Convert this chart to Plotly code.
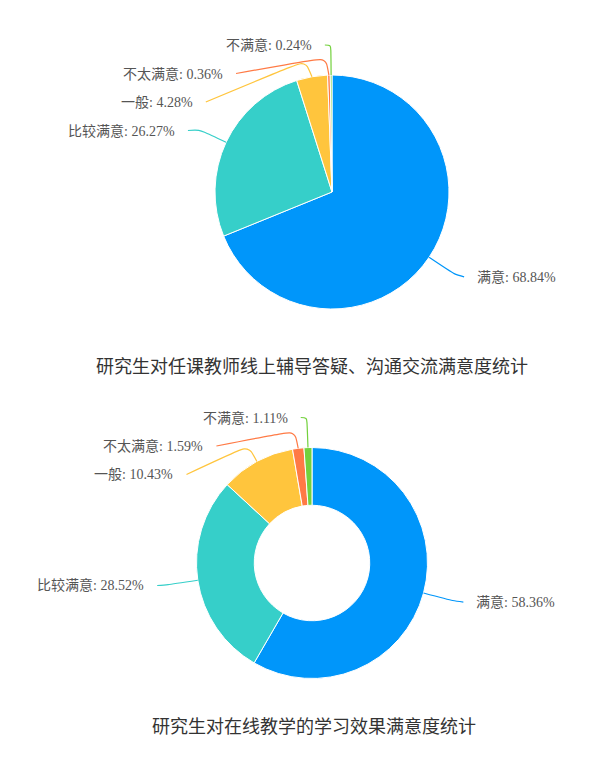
import math
import plotly.graph_objects as go

# satisfaction categories, shared by both charts
categories = ["满意", "比较满意", "一般", "不太满意", "不满意"]
colors = ["#0096FA", "#36CFC9", "#FFC53D", "#FF7A45", "#73D13D"]

# chart 1: online tutoring / Q&A satisfaction (%)
tutoring_pct = [68.84, 26.27, 4.28, 0.36, 0.24]
tutoring_title = "研究生对任课教师线上辅导答疑、沟通交流满意度统计"

# chart 2: online teaching learning effect satisfaction (%)
effect_pct = [58.36, 28.52, 10.43, 1.59, 1.11]
effect_title = "研究生对在线教学的学习效果满意度统计"

W, H = 600, 759
OFF = 8  # page body margin
FONT = "Liberation Serif, Noto Sans CJK SC, serif"


def px(x, y):
    # screen pixel -> paper coordinates
    return (x - OFF) / W, 1 - (y - OFF) / H


def label_layout(values, cx, cy, r):
    """echarts-like outer labels: positions, shifted to avoid overlap, and leader lines"""
    R = r + 35
    len2 = 6
    step = 28.5
    top_bound = cy - r - 30
    total = sum(values)
    items = []
    acc = 0
    for i, v in enumerate(values):
        th = (acc + v / 2) / total * 2 * math.pi
        acc += v
        d = 1 if math.sin(th) >= 0 else -1
        items.append(dict(i=i, th=th, dir=d, yn=cy - R * math.cos(th),
                          dxn=R * math.sin(th)))
    for side in (1, -1):
        lst = sorted([it for it in items if it["dir"] == side], key=lambda t: t["yn"])
        prev = None
        for it in lst:
            y = max(it["yn"], top_bound)
            if prev is not None:
                y = max(y, prev + step)
            it["y"] = y
            prev = y
        # re-align x on an ellipse per half
        for semi in (True, False):
            sl = [it for it in lst if (it["y"] < cy) == semi]
            if not sl:
                continue
            far = max(sl, key=lambda t: abs(t["y"] - cy))
            dy = abs(far["y"] - cy)
            dx = far["dxn"]
            rB = math.sqrt(dy * dy / (1 - dx * dx / R / R)) if abs(dx) < R else R
            for it in sl:
                k = 1 - ((it["y"] - cy) / rB) ** 2
                it["xe"] = cx + side * math.sqrt(max(k, 0)) * R + side * len2

    shapes, notes = [], []
    for it in items:
        th, d = it["th"], it["dir"]
        p0 = (cx + r * math.sin(th), cy - r * math.cos(th))
        shifted = abs(it["y"] - it["yn"]) > 6
        l1 = r + (18 if shifted else 30)
        p1 = [cx + l1 * math.sin(th), cy - l1 * math.cos(th)]
        p2 = (it["xe"], it["y"])
        # keep the turn angle >= 90 degrees
        ax, ay = p0[0] - p1[0], p0[1] - p1[1]
        bx, by = p2[0] - p1[0], p2[1] - p1[1]
        lb = math.hypot(bx, by)
        if ax * bx + ay * by > 0 and lb > 0:
            t = (ax * bx + ay * by) / lb
            t = min(t, lb)
            p1 = [p1[0] + bx / lb * t, p1[1] + by / lb * t]
        # smooth corner (0.3)
        la = math.hypot(p0[0] - p1[0], p0[1] - p1[1])
        lb = math.hypot(p2[0] - p1[0], p2[1] - p1[1])
        m = min(la, lb) * 0.3
        m0 = (p1[0] + (p0[0] - p1[0]) * m / la, p1[1] + (p0[1] - p1[1]) * m / la) if la else p1
        m2 = (p1[0] + (p2[0] - p1[0]) * m / lb, p1[1] + (p2[1] - p1[1]) * m / lb) if lb else p1
        m1 = ((m0[0] + m2[0]) / 2, (m0[1] + m2[1]) / 2)
        pts = [px(*p) for p in (p0, m0, m0, m1, m2, m2, p2)]
        s = [f"{a:.5f},{b:.5f}" for a, b in pts]
        path = f"M {s[0]} C {s[1]} {s[2]} {s[3]} C {s[4]} {s[5]} {s[6]}"
        shapes.append(dict(type="path", path=path, xref="paper", yref="paper",
                           line=dict(color=colors[it["i"]], width=1.2)))
        tx, ty = px(p2[0] + d * 11, p2[1])
        notes.append(dict(x=tx, y=ty, xref="paper", yref="paper", showarrow=False,
                          text=f"{categories[it['i']]}: {values[it['i']]:.2f}%",
                          xanchor="left" if d > 0 else "right", yanchor="middle",
                          font=dict(family=FONT, size=14, color="#555555")))
    return shapes, notes


def pie_domain(cx, cy, r):
    x0, y1 = px(cx - r, cy - r)
    x1, y0 = px(cx + r, cy + r)
    return dict(x=[x0, x1], y=[y0, y1])


charts = [
    (tutoring_pct, tutoring_title, 332, 192, 117, 0, 312.5, 367),
    (effect_pct, effect_title, 312, 563, 115.5, 0.5, 314, 727),
]

fig = go.Figure()
shapes, notes = [], []
for vals, title, cx, cy, r, hole, tx, ty in charts:
    fig.add_trace(go.Pie(
        labels=categories, values=vals, sort=False, direction="clockwise",
        rotation=0, hole=hole, textinfo="none", hoverinfo="label+percent",
        marker=dict(colors=colors, line=dict(color="white", width=1)),
        domain=pie_domain(cx, cy, r), showlegend=False,
    ))
    s, n = label_layout(vals, cx, cy, r)
    shapes += s
    notes += n
    x, y = px(tx, ty)
    notes.append(dict(x=x, y=y, xref="paper", yref="paper", showarrow=False,
                      text=title, xanchor="center", yanchor="middle",
                      font=dict(family=FONT, size=18, color="#333333")))

fig.update_layout(
    width=W, height=H,
    margin=dict(l=0, r=0, t=0, b=0),
    paper_bgcolor="white", plot_bgcolor="white",
    shapes=shapes, annotations=notes,
)

fig.write_html("out.html")
